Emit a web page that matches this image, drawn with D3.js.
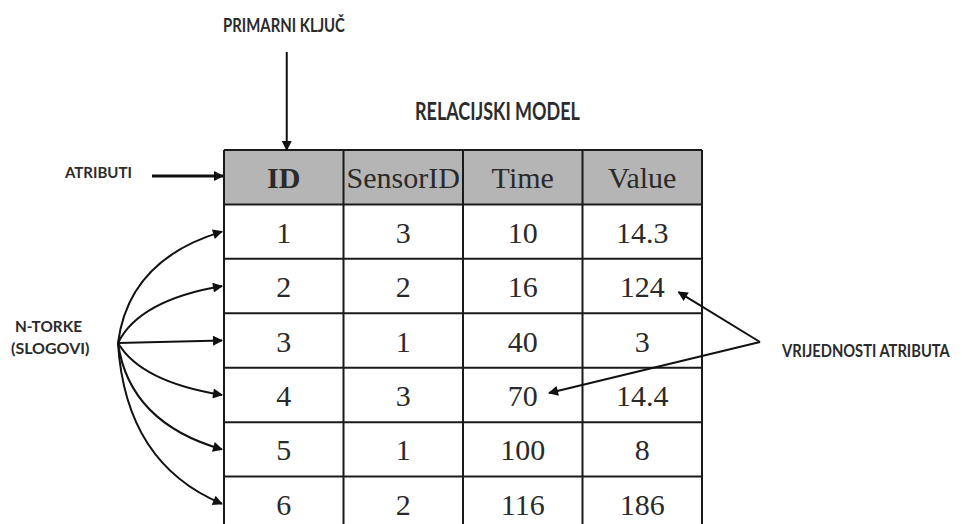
<!DOCTYPE html>
<html>
<head>
<meta charset="utf-8">
<script src="https://cdn.jsdelivr.net/npm/d3@7"></script>
<style>
  body { margin: 0; background: #fff; }
  svg { display: block; }
  .lbl { font-family: Lato, 'Open Sans', sans-serif; font-weight: 700; fill: #2b2b2b; }
  .cell { font-family: 'Liberation Serif', 'Times New Roman', serif; fill: #2a2a2a; }
</style>
</head>
<body>
<svg width="962" height="524"></svg>
<script>
// table content
var columns = ['ID', 'SensorID', 'Time', 'Value'];
var ids = [1, 2, 3, 4, 5, 6];
var sensorIds = [3, 2, 1, 3, 1, 2];
var times = [10, 16, 40, 70, 100, 116];
var values = ['14.3', '124', '3', '14.4', '8', '186'];

var svg = d3.select('svg');

// arrow head marker
svg.append('defs').append('marker')
  .attr('id', 'head')
  .attr('viewBox', '0 0 10 10')
  .attr('refX', 9).attr('refY', 5)
  .attr('markerWidth', 11).attr('markerHeight', 10)
  .attr('markerUnits', 'userSpaceOnUse')
  .attr('orient', 'auto')
  .append('path')
  .attr('d', 'M0,0 L10,5 L0,10 Z')
  .attr('fill', '#111');

var rowKeys = ['head'].concat(ids.map(String));
var x = d3.scaleBand().domain(columns).range([224, 702]);
var y = d3.scaleBand().domain(rowKeys).range([150, 531]);

var rows = ids.map(function (id, i) {
  return [id, sensorIds[i], times[i], values[i]];
});

// header background
svg.append('rect')
  .attr('x', x.range()[0]).attr('y', y('head'))
  .attr('width', x.range()[1] - x.range()[0]).attr('height', y.bandwidth())
  .attr('fill', '#b5b5b5');

// grid lines
var grid = svg.append('g').attr('stroke', '#1a1a1a').attr('stroke-width', 2);
grid.selectAll('line.h')
  .data(rowKeys.concat(['end']))
  .enter().append('line')
  .attr('x1', x.range()[0]).attr('x2', x.range()[1])
  .attr('y1', function (d, i) { return y.range()[0] + i * y.step(); })
  .attr('y2', function (d, i) { return y.range()[0] + i * y.step(); });
grid.selectAll('line.v')
  .data(columns.concat(['end']))
  .enter().append('line')
  .attr('y1', y.range()[0]).attr('y2', 524)
  .attr('x1', function (d, i) { return x.range()[0] + i * x.step(); })
  .attr('x2', function (d, i) { return x.range()[0] + i * x.step(); });

// header text
svg.selectAll('text.hdr')
  .data(columns)
  .enter().append('text')
  .attr('class', 'cell')
  .attr('x', function (d) { return x(d) + x.bandwidth() / 2; })
  .attr('y', y('head') + y.bandwidth() / 2 + 11)
  .attr('text-anchor', 'middle')
  .attr('font-size', 30)
  .attr('font-weight', function (d) { return d === 'ID' ? 700 : 400; })
  .text(function (d) { return d; });

// data cells
rows.forEach(function (r, i) {
  svg.selectAll('text.r' + i)
    .data(r)
    .enter().append('text')
    .attr('class', 'cell')
    .attr('x', function (d, j) { return x(columns[j]) + x.bandwidth() / 2; })
    .attr('y', y(String(ids[i])) + y.bandwidth() / 2 + 11)
    .attr('text-anchor', 'middle')
    .attr('font-size', 30)
    .text(function (d) { return d; });
});

// labels, squeezed horizontally to the widths in the picture
function label(txt, lx, ly, size, len) {
  var t = svg.append('text').attr('class', 'lbl')
    .attr('font-size', size).text(txt);
  var w = t.node().getComputedTextLength();
  t.attr('transform', 'translate(' + lx + ',' + ly + ') scale(' + Math.min(1, len / w) + ',1)');
}
label('PRIMARNI KLJUČ', 223, 32, 18, 122);
label('RELACIJSKI MODEL', 415, 120, 24, 165);
label('ATRIBUTI', 65, 178, 16, 67);
label('N-TORKE', 15, 332, 16, 67);
label('(SLOGOVI)', 11, 354, 16, 79);
label('VRIJEDNOSTI ATRIBUTA', 782, 357, 17, 168);

var arrows = svg.append('g').attr('fill', 'none').attr('stroke', '#111')
  .attr('stroke-width', 2).attr('marker-end', 'url(#head)');

// primary key arrow
arrows.append('line')
  .attr('x1', x('ID') + x.bandwidth() / 2 + 3).attr('x2', x('ID') + x.bandwidth() / 2 + 3)
  .attr('y1', 52).attr('y2', y('head'));

// attributes arrow
arrows.append('line')
  .attr('x1', 152).attr('x2', x.range()[0] - 1)
  .attr('y1', 176).attr('y2', 176)
  .attr('stroke-width', 3);

// tuple arrows fanning out from one point
var ox = 118, oy = 343;
ids.forEach(function (id) {
  var ty = y(String(id)) + y.bandwidth() / 2;
  var tx = x.range()[0] - 2;
  var dy = ty - oy;
  var p = d3.path();
  p.moveTo(ox, oy);
  if (Math.abs(dy) < 6) {
    p.lineTo(tx, ty);
  } else {
    p.quadraticCurveTo(ox + 1200 / Math.abs(dy), ty - dy * 0.25, tx, ty);
  }
  arrows.append('path').attr('d', p.toString());
});

// attribute value arrows
var vx = 760, vy = 342;
arrows.append('line').attr('x1', vx).attr('y1', vy)
  .attr('x2', x('Value') + 96).attr('y2', y('2') + y.bandwidth() / 2 + 6);
arrows.append('line').attr('x1', vx).attr('y1', vy)
  .attr('x2', x('Time') + 86).attr('y2', y('4') + y.bandwidth() / 2 - 2);
</script>
</body>
</html>
